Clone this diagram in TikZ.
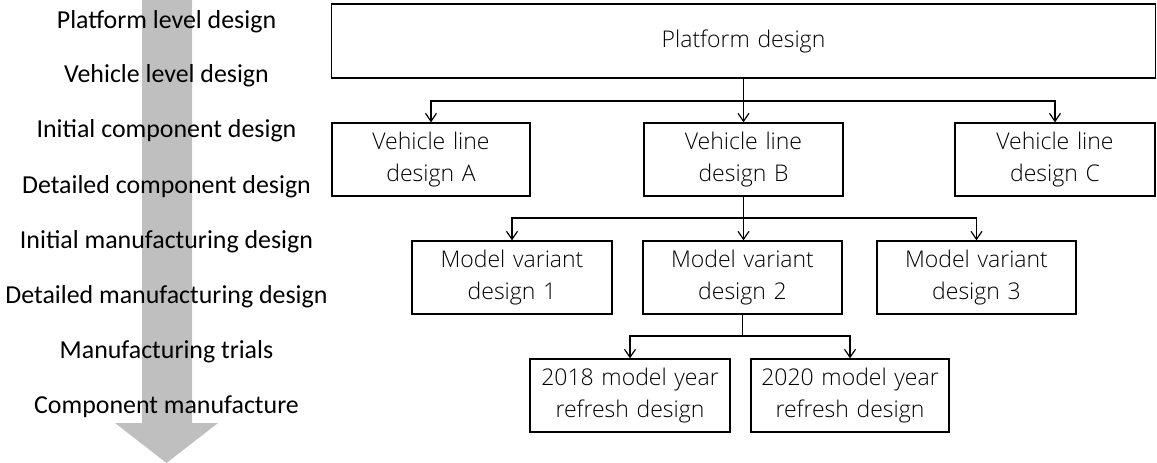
\documentclass[tikz,border=0pt]{standalone}
\usepackage{fontspec}
\setmainfont{Carlito}
\newfontfamily\boxfont{Open Sans Light}
\usetikzlibrary{arrows.meta}
\definecolor{flowgray}{RGB}{191,191,191}
\tikzset{
  designbox/.style={draw, line width=1.3pt, minimum height=73pt, text width=194pt,
    align=center, inner sep=0pt, font=\boxfont\fontsize{23}{32}\selectfont},
  stagelabel/.style={font=\fontsize{25.9}{26}\selectfont, anchor=center},
  link/.style={line width=1.4pt},
  linkarrow/.style={link, -{Straight Barb[length=8pt,width=11pt,line width=1.2pt]}}
}
\begin{document}
\begin{tikzpicture}[x=1pt,y=-1pt]
\useasboundingbox (0,0) rectangle (1157,463);

% process direction arrow
\fill[flowgray] (142,0) -- (192,0) -- (192,423) -- (218,423) -- (166.5,463)
  -- (115,423) -- (142,423) -- cycle;

% stages of the process
\node[stagelabel] (s1) at (166.5,22) {Platform level design};
\node[stagelabel] (s2) at (166.5,76) {Vehicle level design};
\node[stagelabel] (s3) at (166.5,131) {Initial component design};
\node[stagelabel] (s4) at (166.5,187) {Detailed component design};
\node[stagelabel] (s5) at (166.5,242) {Initial manufacturing design};
\node[stagelabel] (s6) at (166.5,297) {Detailed manufacturing design};
\node[stagelabel] (s7) at (166.5,352) {Manufacturing trials};
\node[stagelabel] (s8) at (166.5,407) {Component manufacture};

% design hierarchy
\node[designbox, minimum width=824pt, minimum height=74pt, text width=800pt] (plat) at (743.5,41) {Platform design};

\node[designbox, minimum width=198pt] (vA) at (431,159.5) {Vehicle line\\design A};
\node[designbox, minimum width=199pt] (vB) at (743.5,159.5) {Vehicle line\\design B};
\node[designbox, minimum width=200pt] (vC) at (1055,159.5) {Vehicle line\\design C};

\node[designbox, minimum width=200pt] (m1) at (512,277.5) {Model variant\\design 1};
\node[designbox, minimum width=199pt] (m2) at (742.5,277.5) {Model variant\\design 2};
\node[designbox, minimum width=199pt] (m3) at (976.5,277.5) {Model variant\\design 3};

\node[designbox, minimum width=200pt] (r1) at (630,395.5) {2018 model year\\refresh design};
\node[designbox, minimum width=198pt] (r2) at (850,395.5) {2020 model year\\refresh design};

% branch points
\coordinate (j1) at (743.5,101);
\coordinate (j2) at (743.5,218);
\coordinate (j3) at (742.5,336);

\draw[link] (plat.south) -- (j1);
\draw[linkarrow] (j1) -| (vA.north);
\draw[linkarrow] (j1) -- (vB.north);
\draw[linkarrow] (j1) -| (vC.north);

\draw[link] (vB.south) -- (j2);
\draw[linkarrow] (j2) -| (m1.north);
\draw[linkarrow] (j2) -- (m2.north -| j2);
\draw[linkarrow] (j2) -| (m3.north);

\draw[link] (m2.south) -- (j3);
\draw[linkarrow] (j3) -| (r1.north);
\draw[linkarrow] (j3) -| (r2.north);
\end{tikzpicture}
\end{document}
